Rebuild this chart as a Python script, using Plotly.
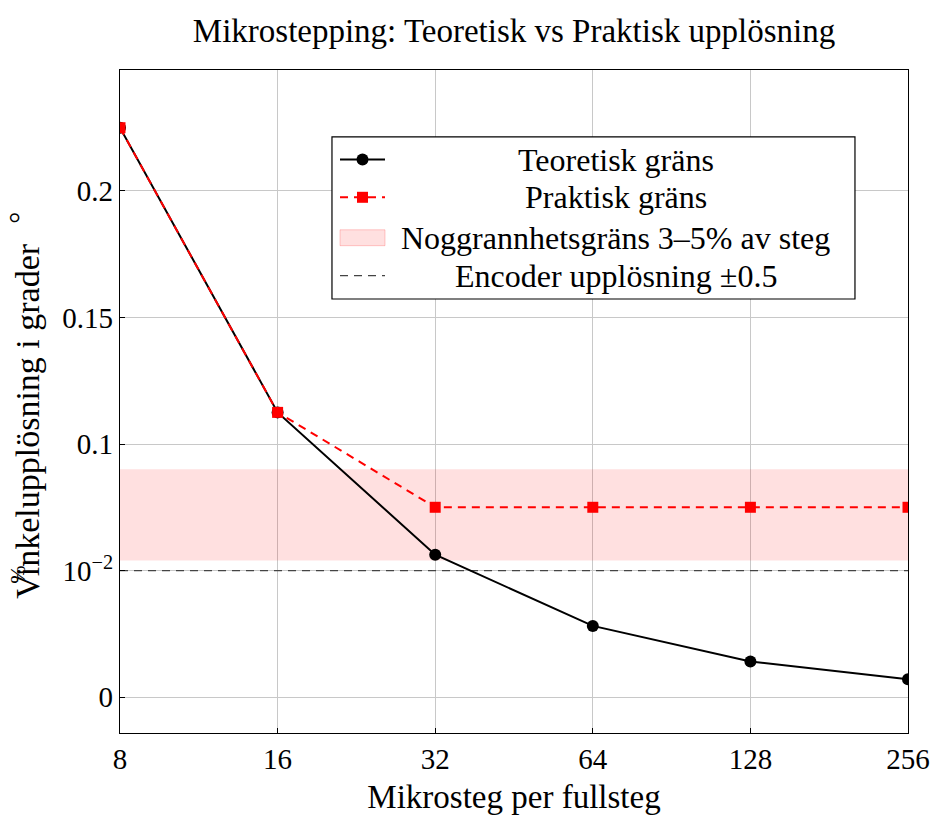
import plotly.graph_objects as go

# Microstepping resolution data (degrees per microstep, 1.8° motor)
microsteps = [8, 16, 32, 64, 128, 256]
theoretical = [0.225, 0.1125, 0.05625, 0.028125, 0.0140625, 0.00703125]
practical = [0.225, 0.1125, 0.075, 0.075, 0.075, 0.075]

band_low = 0.054    # 3 % of a full step
band_high = 0.09    # 5 % of a full step
encoder_res = 0.05

y_ticks = [0, 0.05, 0.1, 0.15, 0.2]
y_ticktext = ["0", "10<sup>−2</sup>", "0.1", "0.15", "0.2"]
x_ticks = microsteps

FONT = "Liberation Serif"
FS = 32

fig = go.Figure()

# accuracy band
fig.add_trace(go.Scatter(
    x=[microsteps[0], microsteps[-1], microsteps[-1], microsteps[0], microsteps[0]],
    y=[band_low, band_low, band_high, band_high, band_low],
    fill="toself", fillcolor="rgba(255,0,0,0.12)", line=dict(width=0),
    mode="lines", hoverinfo="skip", showlegend=False))

# encoder resolution
fig.add_trace(go.Scatter(
    x=[microsteps[0], microsteps[-1]], y=[encoder_res, encoder_res],
    mode="lines", line=dict(color="#444444", width=1.2, dash="8px,6px"),
    showlegend=False))

fig.add_trace(go.Scatter(
    x=microsteps, y=theoretical, mode="lines+markers",
    line=dict(color="black", width=2),
    marker=dict(symbol="circle", size=12, color="black"),
    showlegend=False))

fig.add_trace(go.Scatter(
    x=microsteps, y=practical, mode="lines+markers",
    line=dict(color="red", width=2, dash="8px,6px"),
    marker=dict(symbol="square", size=11, color="red"),
    showlegend=False))

axis_common = dict(
    showline=True, linecolor="black", linewidth=1.2, mirror=True,
    showgrid=True, gridcolor="#c8c8c8", gridwidth=1,
    ticks="inside", ticklen=5, tickcolor="black",
    tickfont=dict(family=FONT, size=29, color="black"),
    zeroline=False, automargin=False)

fig.update_xaxes(type="log", range=[0.90309, 2.40824], tickvals=x_ticks,
                 ticktext=[str(v) for v in x_ticks],
                 title=dict(text="Mikrosteg per fullsteg",
                            font=dict(family=FONT, size=33, color="black"),
                            standoff=10),
                 **axis_common)
fig.update_yaxes(range=[-0.0142, 0.2478], tickvals=y_ticks, ticktext=y_ticktext,
                 **axis_common)

# custom legend with centred entries
lx0, lx1, ly0, ly1 = 0.269, 0.9327, 0.6546, 0.899
shapes = [dict(type="rect", xref="paper", yref="paper", x0=lx0, x1=lx1, y0=ly0, y1=ly1,
               line=dict(color="black", width=1.2), fillcolor="white", layer="above")]
rows = [0.865, 0.808, 0.747, 0.690]
sx0, sx1 = (340 - 120) / 788, (385 - 120) / 788
smid = (sx0 + sx1) / 2
shapes.append(dict(type="line", xref="paper", yref="paper", x0=sx0, x1=sx1,
                   y0=rows[0], y1=rows[0], line=dict(color="black", width=2), layer="above"))
shapes.append(dict(type="circle", xref="paper", yref="paper", xsizemode="pixel",
                   ysizemode="pixel", xanchor=smid, yanchor=rows[0], x0=-6, x1=6,
                   y0=-6, y1=6, fillcolor="black", line=dict(width=0), layer="above"))
shapes.append(dict(type="line", xref="paper", yref="paper", x0=sx0, x1=sx1,
                   y0=rows[1], y1=rows[1], line=dict(color="red", width=2, dash="8px,6px"),
                   layer="above"))
shapes.append(dict(type="rect", xref="paper", yref="paper", xsizemode="pixel",
                   ysizemode="pixel", xanchor=smid, yanchor=rows[1], x0=-5.5, x1=5.5,
                   y0=-5.5, y1=5.5, fillcolor="red", line=dict(width=0), layer="above"))
shapes.append(dict(type="rect", xref="paper", yref="paper", x0=sx0, x1=sx1,
                   y0=rows[2] - 0.012, y1=rows[2] + 0.012,
                   fillcolor="rgba(255,0,0,0.12)", line=dict(color="rgba(255,0,0,0.2)", width=1),
                   layer="above"))
shapes.append(dict(type="line", xref="paper", yref="paper", x0=sx0, x1=sx1,
                   y0=rows[3], y1=rows[3], line=dict(color="#444444", width=1.2, dash="8px,6px"),
                   layer="above"))

legend_labels = ["Teoretisk gräns", "Praktisk gräns",
                 "Noggrannhetsgräns 3–5% av steg", "Encoder upplösning ±0.5"]
annotations = []
for lab, yy in zip(legend_labels, rows):
    annotations.append(dict(text=lab, xref="paper", yref="paper", x=0.629, y=yy,
                            showarrow=False, xanchor="center", yanchor="middle",
                            font=dict(family=FONT, size=FS, color="black")))

# y-axis label
annotations.append(dict(text="Vinkelupplösning i grader", xref="paper", yref="paper",
                        x=-0.117, y=0.4706, textangle=-90, showarrow=False,
                        xanchor="center", yanchor="middle",
                        font=dict(family=FONT, size=34, color="black")))
annotations.append(dict(text="°", xref="paper", yref="paper",
                        x=-0.127, y=0.777, textangle=-90, showarrow=False,
                        xanchor="center", yanchor="middle",
                        font=dict(family=FONT, size=30, color="black")))
annotations.append(dict(text="%", xref="paper", yref="paper",
                        x=-0.13, y=0.238, textangle=-90, showarrow=False,
                        xanchor="center", yanchor="middle",
                        font=dict(family=FONT, size=22, color="black")))

fig.update_layout(
    width=935, height=815,
    margin=dict(l=120, r=27, t=70, b=82),
    paper_bgcolor="white", plot_bgcolor="white",
    title=dict(text="Mikrostepping: Teoretisk vs Praktisk upplösning",
               xref="paper", x=0.5, xanchor="center", y=0.963, yanchor="middle",
               font=dict(family=FONT, size=33, color="black")),
    shapes=shapes, annotations=annotations, showlegend=False)

fig.write_html("out.html")
